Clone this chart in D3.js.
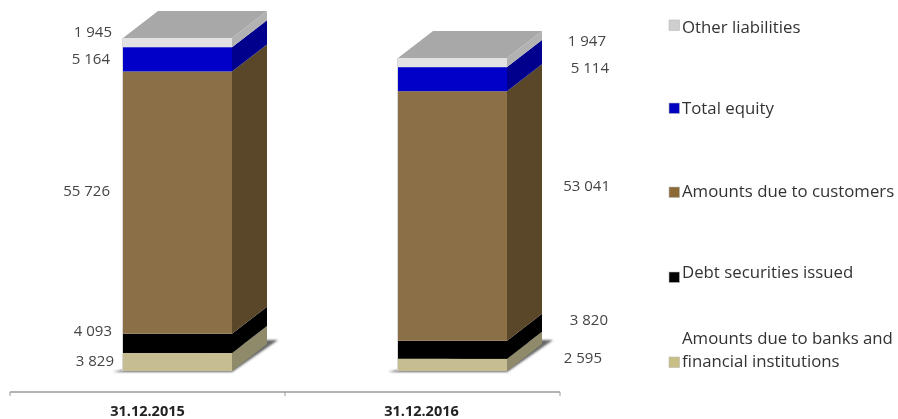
<!DOCTYPE html>
<html><head><meta charset="utf-8">
<script src="https://cdn.jsdelivr.net/npm/d3@7"></script>
<style>html,body{margin:0;background:#fff}svg{display:block}text{font-family:"Open Sans",sans-serif}</style>
</head><body><svg id="c" width="898" height="419"></svg>
<script>
const categories = ["31.12.2015", "31.12.2016"];
const seriesNames = ["Amounts due to banks and financial institutions", "Debt securities issued", "Amounts due to customers", "Total equity", "Other liabilities"];
const banks = [3829, 2595];
const debt = [4093, 3820];
const customers = [55726, 53041];
const equity = [5164, 5114];
const other = [1945, 1947];
const valueLabels = [["3 829","2 595"],["4 093","3 820"],["55 726","53 041"],["5 164","5 114"],["1 945","1 947"]];
const frontColors = ["#c6bd92", "#000000", "#8b6f47", "#0000c8", "#e2e2e2"];
const sideColors = ["#8f8a6b", "#000000", "#5a472b", "#00008c", "#b2b2b2"];
const topColor = "#a8a8a8";
const legendColors = ["#c9bf85", "#000000", "#8b6a35", "#0000c0", "#cfcfcf"];
// label anchor x (end of text) per category and per-series vertical nudge
const labelRight = [[114,112,110,110,112],[602,608,610,609,606]];
const labelNudge = [[-1,-13,-12,-1,-11],[-7,-30,-30,-11,-22]];
const legendY = [361, 272, 191, 108, 27];
const markerNudge = [-4, 0, -4, -5, -7];

const series = [banks, debt, customers, equity, other];
const svg = d3.select("#c");
const defs = svg.append("defs");
defs.append("filter").attr("id","soft").attr("x","-5%").attr("y","-5%").attr("width","110%").attr("height","110%")
  .append("feGaussianBlur").attr("stdDeviation",0.65);
defs.append("filter").attr("id","shadow").attr("x","-30%").attr("y","-60%").attr("width","160%").attr("height","220%")
  .append("feGaussianBlur").attr("stdDeviation",1.3);

const root = svg.append("g").attr("filter","url(#soft)");
const x = d3.scaleBand().domain(categories).range([10,560]).padding(0);
const y = d3.scaleLinear().domain([0,70757]).range([371,38]);
const barOffset = 113, barW = 109, dx = 35, dy = -27;

const axisG = root.append("g").attr("transform","translate(0,392)");
axisG.append("line").attr("x1",x.range()[0]).attr("x2",x.range()[1]).attr("stroke","#9a9a9a").attr("stroke-width",1.6);
[...categories.map(c=>x(c)), x.range()[1]].forEach(t=>axisG.append("line").attr("x1",t).attr("x2",t).attr("y1",0).attr("y2",4).attr("stroke","#9a9a9a"));
axisG.selectAll(".cat").data(categories).join("text").attr("class","cat")
  .attr("x",d=>x(d)+x.bandwidth()/2-(d===categories[1]?1:0)).attr("y",23.5).attr("text-anchor","middle")
  .attr("font-size",14.5).attr("font-weight",700).attr("fill","#222").text(d=>d);

categories.forEach((cat,ci)=>{
  const g = root.append("g");
  const x0 = x(cat)+barOffset, x1 = x0+barW;
  // shadow on floor
  g.append("polygon").attr("filter","url(#shadow)").attr("fill","#666")
    .attr("points",[[x0-10,y(0)+1],[x1,y(0)+1],[x1+dx+11,y(0)+dy-4],[x1+dx,y(0)+dy-4]].join(" "));
  let acc = 0;
  series.forEach((s,si)=>{
    const a = y(acc), b = y(acc+s[ci]);
    g.append("rect").attr("x",x0).attr("y",b).attr("width",barW).attr("height",a-b).attr("fill",frontColors[si]);
    g.append("polygon").attr("fill",sideColors[si])
      .attr("points",[[x1,a],[x1+dx,a+dy],[x1+dx,b+dy],[x1,b]].join(" "));
    const mid = (a+b)/2;
    root.append("text").attr("x",labelRight[ci][si]).attr("y",mid+labelNudge[ci][si]).attr("dy","0.35em")
      .attr("text-anchor","end").attr("font-size",15).attr("fill","#444").text(valueLabels[si][ci]);
    acc += s[ci];
  });
  const t = y(acc);
  g.append("polygon").attr("fill",topColor)
    .attr("points",[[x0,t],[x1,t],[x1+dx,t+dy],[x0+dx,t+dy]].join(" "));
  g.append("line").attr("x1",x0-.5).attr("x2",x0-.5).attr("y1",t).attr("y2",y(0)).attr("stroke","#d8d8d8");
});

const leg = root.append("g");
const fs = 16.8;
seriesNames.forEach((name,i)=>{
  const ly = legendY[i];
  leg.append("rect").attr("x",669).attr("y",ly+markerNudge[i]).attr("width",10.5).attr("height",10.5)
    .attr("fill",legendColors[i]).attr("stroke","#b8b8b8").attr("stroke-width",.6);
  if(i===0){
    leg.append("text").attr("x",682).attr("y",ly-23).attr("dy","0.35em").attr("font-size",fs).attr("fill","#333").text("Amounts due to banks and");
    leg.append("text").attr("x",682).attr("y",ly).attr("dy","0.35em").attr("font-size",fs).attr("fill","#333").text("financial institutions");
  } else {
    leg.append("text").attr("x",682).attr("y",ly).attr("dy","0.35em").attr("font-size",fs).attr("fill","#333").text(name);
  }
});
</script></body></html>
